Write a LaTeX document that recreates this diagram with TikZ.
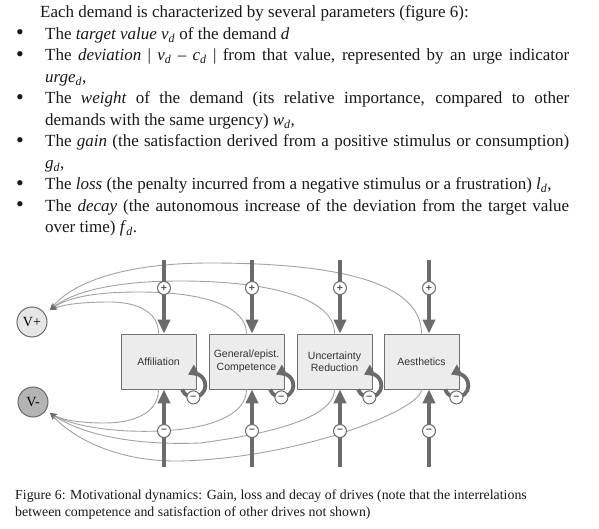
\documentclass[tikz,border=0pt]{standalone}
\usepackage{fontspec}
\setmainfont{Liberation Serif}
\newfontfamily\boxfont{Liberation Sans}
\usetikzlibrary{arrows.meta}
\definecolor{thickc}{HTML}{6B6B6B}
\definecolor{thinc}{HTML}{A2A2A2}
\definecolor{boxline}{HTML}{707070}
\definecolor{boxfill}{HTML}{ECECEC}
\definecolor{boxtext}{HTML}{333333}
\definecolor{vline}{HTML}{6A6A6A}
\definecolor{vpfill}{HTML}{E6E6E6}
\definecolor{vmfill}{HTML}{B4B4B4}
\definecolor{signc}{HTML}{555555}
\newcommand{\dsubx}{\textsubscript{\itshape d}}
\begin{document}
\begin{tikzpicture}[x=1pt,y=1pt,
  txt/.style={anchor=base west, inner sep=0pt, text=black!90, font=\fontsize{17}{21.5}\selectfont},
  bul/.style={anchor=base, inner sep=0pt, text=black!90, font=\fontsize{22}{21.5}\selectfont},
  captxt/.style={anchor=base west, inner sep=0pt, text=black!90, font=\fontsize{13.85}{17}\selectfont},
  drive/.style={draw=boxline, fill=boxfill, line width=0.8pt, minimum width=75pt, minimum height=55pt, inner sep=0pt, align=center, font=\boxfont\fontsize{10.5}{12.5}\selectfont, text=boxtext},
  vnode/.style={circle, draw=vline, line width=1pt, minimum size=30pt, inner sep=0pt, font=\fontsize{14}{14}\selectfont},
  sign/.style={circle, draw=thickc, fill=white, line width=1pt, minimum size=13pt, inner sep=0pt, font=\boxfont\bfseries\fontsize{10.5}{10.5}\selectfont, text=signc},
  bigarrow/.style={draw=thickc, line width=3.6pt, -{Triangle[length=14pt,width=12pt]}},
  loopline/.style={draw=thickc, line width=3.8pt, -{Triangle[length=10pt,width=12pt]}},
  thinline/.style={draw=thinc, line width=0.9pt, -{Stealth[length=7pt,width=5.5pt,color=thickc]}}
]
\fill[white] (0,0) rectangle (599,-529);
\useasboundingbox (0,0) rectangle (599,-529);

% text
\node[txt] (l0) at (40,-18) {Each demand is characterized by several parameters (figure 6):};
\node[bul] (k1) at (20,-40) {•};
\node[txt] (l1) at (45,-39.5) {The \textit{target value} \textit{v}\dsubx{} of the demand \textit{d}};
\node[bul] (k2) at (20,-61.5) {•};
\node[txt] (l2) at (45,-61) {\makebox[524pt][s]{The \textit{deviation} | \textit{v}\dsubx{} – \textit{c}\dsubx{} | from that value, represented by an urge indicator}};
\node[txt] (l3) at (45,-82.5) {\textit{urge}\dsubx,};
\node[bul] (k3) at (20,-104.5) {•};
\node[txt] (l4) at (45,-104) {\makebox[524pt][s]{The \textit{weight} of the demand (its relative importance, compared to other}};
\node[txt] (l5) at (45,-125.5) {demands with the same urgency) \textit{w}\dsubx,};
\node[bul] (k4) at (20,-147.5) {•};
\node[txt] (l6) at (45,-147) {\makebox[524pt][s]{The \textit{gain} (the satisfaction derived from a positive stimulus or consumption)}};
\node[txt] (l7) at (45,-168.5) {\textit{g}\dsubx,};
\node[bul] (k5) at (20,-190.5) {•};
\node[txt] (l8) at (45,-190) {The \textit{loss} (the penalty incurred from a negative stimulus or a frustration) \textit{l}\dsubx,};
\node[bul] (k6) at (20,-212) {•};
\node[txt] (l9) at (45,-211.5) {\makebox[524pt][s]{The \textit{decay} (the autonomous increase of the deviation from the target value}};
\node[txt] (l10) at (45,-233) {over time) \textit{f}\dsubx.};

% caption
\node[captxt] (c1) at (15,-499) {Figure 6: Motivational dynamics: Gain, loss and decay of drives (note that the interrelations};
\node[captxt] (c2) at (15,-516) {between competence and satisfaction of other drives not shown)};

% V nodes
\node[vnode, fill=vpfill, outer sep=6.6pt] (vp) at (32,-322) {V+};
\node[vnode, fill=vmfill, outer sep=5.2pt] (vm) at (33,-402) {V-};

% boxes
\node[drive] (b1) at (158.5,-361.5) {Affiliation};
\node[drive] (b2) at (246.5,-361.5) {General/epist.\\Competence};
\node[drive] (b3) at (334.5,-361.5) {Uncertainty\\Reduction};
\node[drive] (b4) at (421.5,-361.5) {Aesthetics};

% thin curves to V+
\draw[thinline] (b1.north) .. controls (158.5,-308) and (130,-302) .. (110,-302) .. controls (85,-302) and (65,-304) .. (vp.34);
\draw[thinline] (b2.north) .. controls (246.5,-305) and (200,-292) .. (140,-292) .. controls (100,-292) and (70,-296) .. (vp.34);
\draw[thinline] (b3.north) .. controls (334.5,-295) and (260,-281) .. (180,-281) .. controls (120,-281) and (75,-290) .. (vp.34);
\draw[thinline] (b4.north) .. controls (421.5,-280) and (330,-263) .. (210,-263) .. controls (130,-263) and (75,-280) .. (vp.34);

% thin curves to V-
\draw[thinline] (b1.south) .. controls (158.5,-415) and (130,-423) .. (105,-423) .. controls (80,-423) and (62,-420) .. (vm.-33);
\draw[thinline] (b2.south) .. controls (246.5,-415) and (210,-429) .. (160,-431) .. controls (110,-433) and (70,-425) .. (vm.-33);
\draw[thinline] (b3.south) .. controls (334.5,-410) and (300,-430) .. (200,-443) .. controls (120,-446) and (75,-430) .. (vm.-33);
\draw[thinline] (b4.south) .. controls (421.5,-410) and (300,-458) .. (180,-461) .. controls (120,-462) and (75,-440) .. (vm.-33);

% thick gain arrows
\coordinate (s1) at (164,-260);
\coordinate (s2) at (252,-260);
\coordinate (s3) at (340,-260);
\coordinate (s4) at (429,-260);
\foreach \i in {1,2,3,4}{
  \draw[bigarrow] (s\i) -- (s\i |- b\i.north);
}
% thick loss arrows
\coordinate (e1) at (164,-467);
\coordinate (e2) at (252,-467);
\coordinate (e3) at (340,-467);
\coordinate (e4) at (429,-467);
\foreach \i in {1,2,3,4}{
  \draw[bigarrow] (e\i) -- (e\i |- b\i.south);
}

% decay loops
\foreach \i in {1,2,3,4}{
  \draw[loopline] ([xshift=-14.3pt,yshift=-0.1pt]b\i.south east) arc[start angle=200, end angle=477, radius=12pt];
}

% signs
\foreach \i/\x in {1/164,2/252,3/340,4/429}{
  \node[sign] (p\i) at (\x,-288) {+};
  \node[sign] (m\i) at (\x,-431) {–};
  \node[sign] (d\i) at ([xshift=-3pt,yshift=-8pt]b\i.south east) {–};
}
\end{tikzpicture}
\end{document}
